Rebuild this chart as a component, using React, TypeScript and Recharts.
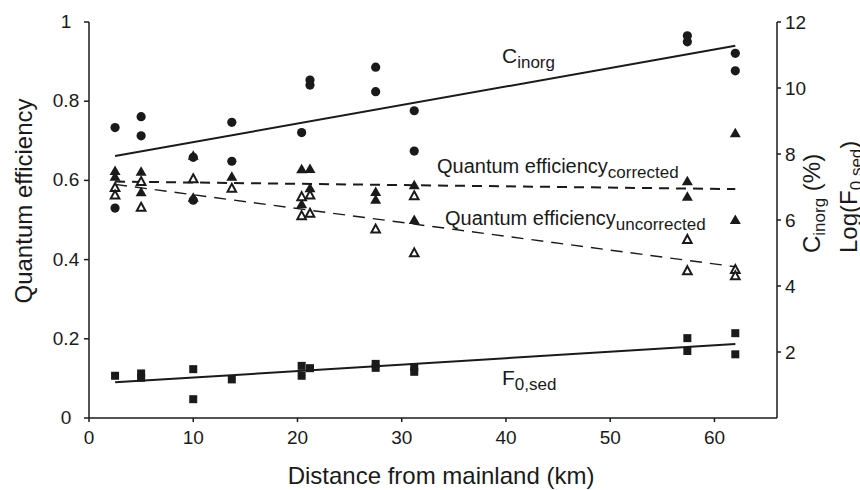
import React from "react"
import { ComposedChart, Scatter, XAxis, YAxis, Customized } from "recharts"

// distance from mainland (km) vs. measured values
const cinorgPoints = [
  { x: 2.5, y: 8.8 }, { x: 2.5, y: 6.36 },
  { x: 5, y: 9.13 }, { x: 5, y: 8.55 },
  { x: 10, y: 7.9 }, { x: 10, y: 6.6 },
  { x: 13.7, y: 8.96 }, { x: 13.7, y: 7.78 },
  { x: 20.4, y: 8.65 },
  { x: 21.2, y: 10.24 }, { x: 21.2, y: 10.09 },
  { x: 27.5, y: 10.63 }, { x: 27.5, y: 9.89 },
  { x: 31.2, y: 9.31 }, { x: 31.2, y: 8.09 },
  { x: 57.4, y: 11.58 }, { x: 57.4, y: 11.4 },
  { x: 62, y: 11.05 }, { x: 62, y: 10.52 },
]

const qeCorrected = [
  { x: 2.5, y: 0.624 }, { x: 2.5, y: 0.609 },
  { x: 5, y: 0.622 }, { x: 5, y: 0.57 },
  { x: 10, y: 0.662 }, { x: 10, y: 0.556 },
  { x: 13.7, y: 0.609 },
  { x: 20.4, y: 0.628 }, { x: 20.4, y: 0.54 },
  { x: 21.2, y: 0.629 }, { x: 21.2, y: 0.58 },
  { x: 27.5, y: 0.571 }, { x: 27.5, y: 0.551 },
  { x: 31.2, y: 0.588 }, { x: 31.2, y: 0.5 },
  { x: 57.4, y: 0.598 }, { x: 57.4, y: 0.559 },
  { x: 62, y: 0.719 }, { x: 62, y: 0.5 },
]

const qeUncorrected = [
  { x: 2.5, y: 0.582 }, { x: 2.5, y: 0.563 },
  { x: 5, y: 0.597 }, { x: 5, y: 0.532 },
  { x: 10, y: 0.604 },
  { x: 13.7, y: 0.58 },
  { x: 20.4, y: 0.559 }, { x: 20.4, y: 0.511 },
  { x: 21.2, y: 0.563 }, { x: 21.2, y: 0.517 },
  { x: 27.5, y: 0.477 },
  { x: 31.2, y: 0.561 }, { x: 31.2, y: 0.417 },
  { x: 57.4, y: 0.451 }, { x: 57.4, y: 0.372 },
  { x: 62, y: 0.375 }, { x: 62, y: 0.359 },
]

const logF0sed = [
  { x: 2.5, y: 1.28 },
  { x: 5, y: 1.35 }, { x: 5, y: 1.22 },
  { x: 10, y: 1.48 }, { x: 10, y: 0.57 },
  { x: 13.7, y: 1.17 },
  { x: 20.4, y: 1.58 }, { x: 20.4, y: 1.28 },
  { x: 21.2, y: 1.51 },
  { x: 27.5, y: 1.64 }, { x: 27.5, y: 1.52 },
  { x: 31.2, y: 1.54 }, { x: 31.2, y: 1.4 },
  { x: 57.4, y: 2.42 }, { x: 57.4, y: 2.03 },
  { x: 62, y: 2.57 }, { x: 62, y: 1.93 },
]

// regression lines (end points)
const cinorgFit = [{ x: 2.5, y: 7.94 }, { x: 62, y: 11.28 }]
const correctedFit = [{ x: 2.5, y: 0.597 }, { x: 62, y: 0.578 }]
const uncorrectedFit = [{ x: 2.5, y: 0.59 }, { x: 62, y: 0.382 }]
const f0sedFit = [{ x: 2.5, y: 1.08 }, { x: 62, y: 2.24 }]

const xTicks = [0, 10, 20, 30, 40, 50, 60]
const leftTicks = [0, 0.2, 0.4, 0.6, 0.8, 1]
const rightTicks = [2, 4, 6, 8, 10, 12]

const INK = "#1a1a1a"
const FONT = "'Liberation Sans', Arial, Helvetica, sans-serif"

const DotShape = (p: any) => <circle cx={p.cx} cy={p.cy} r={4.6} fill={INK} />
const FilledTri = (p: any) => (
  <path d={`M${p.cx},${p.cy - 5.5} L${p.cx + 5.5},${p.cy + 4} L${p.cx - 5.5},${p.cy + 4} Z`} fill={INK} />
)
const OpenTri = (p: any) => (
  <path
    d={`M${p.cx},${p.cy - 4.5} L${p.cx + 4.3},${p.cy + 3.5} L${p.cx - 4.3},${p.cy + 3.5} Z`}
    fill="#fff"
    stroke={INK}
    strokeWidth={2}
  />
)
const SquareShape = (p: any) => <rect x={p.cx - 4} y={p.cy - 4} width={8} height={8} fill={INK} />
const NoShape = () => <g />

const LeftTick = (p: any) => (
  <text x={66} y={p.y} dy={6} textAnchor="middle" fontSize={19} fontFamily={FONT} fill={INK}>
    {p.payload.value}
  </text>
)

const Labels = () => (
  <g fontFamily={FONT} fill={INK}>
    <text x={32} y={201} fontSize={24} textAnchor="middle" transform="rotate(-90 32 201)">
      Quantum efficiency
    </text>
    <text x={441} y={484} fontSize={24} textAnchor="middle">
      Distance from mainland (km)
    </text>
    <text x={820} y={253} fontSize={24} transform="rotate(-90 820 253)">
      C<tspan fontSize={17} dy={5}>inorg</tspan>
      <tspan dy={-5}> (%)</tspan>
    </text>
    <text x={857} y={253} fontSize={24} transform="rotate(-90 857 253)">
      Log(F<tspan fontSize={17} dy={5}>0,sed</tspan>
      <tspan dy={-5}>)</tspan>
    </text>
    <text x={502} y={63} fontSize={21}>
      C<tspan fontSize={17} dy={5}>inorg</tspan>
    </text>
    <text x={437} y={173} fontSize={20}>
      Quantum efficiency<tspan fontSize={17} dy={5}>corrected</tspan>
    </text>
    <text x={445} y={225} fontSize={20}>
      Quantum efficiency<tspan fontSize={17} dy={5}>uncorrected</tspan>
    </text>
    <text x={502} y={385} fontSize={21}>
      F<tspan fontSize={17} dy={5}>0,sed</tspan>
    </text>
  </g>
)

export default function App() {
  return (
    <div style={{ position: "absolute", left: 0, top: 0, width: 860, height: 490, background: "#fff" }}>
      <ComposedChart width={860} height={490} margin={{ top: 22, right: 23, bottom: 22, left: 29 }}>
        <XAxis
          type="number"
          dataKey="x"
          domain={[0, 66]}
          ticks={xTicks}
          allowDataOverflow
          stroke={INK}
          strokeWidth={1.5}
          tickSize={4}
          tickMargin={9}
          height={50}
          tick={{ fontSize: 19, fontFamily: FONT, fill: INK }}
        />
        <YAxis
          yAxisId="left"
          dataKey="y"
          type="number"
          domain={[0, 1]}
          ticks={leftTicks}
          allowDataOverflow
          width={60}
          stroke={INK}
          strokeWidth={1.5}
          tickSize={5}
          tick={<LeftTick />}
        />
        <YAxis
          yAxisId="right"
          dataKey="y"
          orientation="right"
          type="number"
          domain={[0, 12]}
          ticks={rightTicks}
          allowDataOverflow
          width={60}
          stroke={INK}
          strokeWidth={1.5}
          tickSize={4}
          tickMargin={4}
          tick={{ fontSize: 19, fontFamily: FONT, fill: INK }}
        />

        <Scatter yAxisId="right" dataKey="y" data={cinorgFit} shape={NoShape} line={{ stroke: INK, strokeWidth: 2 }} isAnimationActive={false} />
        <Scatter
          yAxisId="left"
          dataKey="y"
          data={correctedFit}
          shape={NoShape}
          line={{ stroke: INK, strokeWidth: 2, strokeDasharray: "10 7" }}
          isAnimationActive={false}
        />
        <Scatter
          yAxisId="left"
          dataKey="y"
          data={uncorrectedFit}
          shape={NoShape}
          line={{ stroke: INK, strokeWidth: 1.4, strokeDasharray: "12 8" }}
          isAnimationActive={false}
        />
        <Scatter yAxisId="right" dataKey="y" data={f0sedFit} shape={NoShape} line={{ stroke: INK, strokeWidth: 2 }} isAnimationActive={false} />

        <Scatter yAxisId="right" dataKey="y" data={cinorgPoints} shape={DotShape} isAnimationActive={false} />
        <Scatter yAxisId="left" dataKey="y" data={qeCorrected} shape={FilledTri} isAnimationActive={false} />
        <Scatter yAxisId="left" dataKey="y" data={qeUncorrected} shape={OpenTri} isAnimationActive={false} />
        <Scatter yAxisId="right" dataKey="y" data={logF0sed} shape={SquareShape} isAnimationActive={false} />

        <Customized component={Labels} />
      </ComposedChart>
    </div>
  )
}
